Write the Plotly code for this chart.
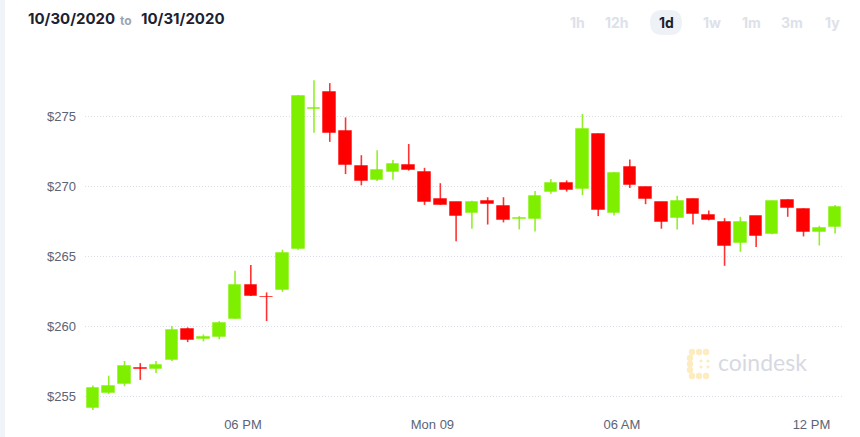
import plotly.graph_objects as go
import pandas as pd

# ---- data (30-minute candles) ----
times = pd.date_range(start="2020-11-08 13:15", periods=48, freq="30min")
opens = [254.2, 255.3, 255.9, 257.05, 256.95, 257.6, 259.85, 259.1, 259.3, 260.55,
         263.0, 262.15, 262.65, 265.55, 275.55, 276.75, 274.0, 271.5, 270.5, 271.05,
         271.55, 271.05, 269.15, 268.9, 268.1, 268.95, 268.65, 267.7, 267.7, 269.65,
         270.3, 269.85, 273.75, 268.15, 271.4, 269.95, 268.9, 267.75, 269.1, 268.0,
         267.45, 265.95, 267.9, 266.6, 269.05, 268.4, 266.8, 267.1]
highs = [255.8, 256.5, 257.55, 257.4, 257.55, 260.05, 259.95, 259.45, 260.4, 264.0,
         264.4, 262.45, 265.5, 276.55, 277.6, 277.4, 274.95, 272.25, 272.6, 271.9,
         273.05, 271.35, 270.25, 268.9, 269.0, 269.25, 269.25, 267.9, 269.7, 270.55,
         270.45, 275.2, 273.8, 271.05, 271.95, 270.0, 268.9, 269.35, 269.15, 268.3,
         267.75, 267.85, 267.9, 269.0, 269.1, 268.45, 267.2, 268.7]
lows = [254.05, 255.2, 255.75, 256.2, 256.7, 257.55, 258.9, 258.95, 259.1, 260.55,
        262.2, 260.4, 262.5, 265.5, 273.85, 273.2, 270.9, 270.1, 270.4, 270.5,
        271.15, 268.7, 268.7, 266.1, 267.0, 267.3, 267.45, 266.95, 266.8, 269.5,
        269.65, 269.4, 267.9, 267.95, 269.9, 268.75, 267.0, 266.95, 267.3, 267.6,
        264.35, 265.35, 265.7, 266.6, 267.85, 266.45, 265.8, 266.65]
closes = [255.6, 255.8, 257.2, 257.0, 257.3, 259.75, 259.05, 259.25, 260.25, 263.0,
          262.2, 262.1, 265.25, 276.45, 275.65, 273.85, 271.55, 270.4, 271.2, 271.6,
          271.2, 268.9, 268.7, 267.9, 268.9, 268.75, 267.6, 267.75, 269.35, 270.25,
          269.8, 274.1, 268.35, 271.0, 270.1, 269.1, 267.5, 269.0, 268.05, 267.65,
          265.8, 267.45, 266.5, 269.0, 268.45, 266.8, 267.05, 268.55]

y_tickvals = [255, 260, 265, 270, 275]
y_ticktext = ["$255", "$260", "$265", "$270", "$275"]
x_tickvals = ["2020-11-08 18:00", "2020-11-09 00:00", "2020-11-09 06:00", "2020-11-09 12:00"]
x_ticktext = ["06 PM", "Mon 09", "06 AM", "12 PM"]
timeframes = ["1h", "12h", "1d", "1w", "1m", "3m", "1y"]
date_from, date_to = "10/30/2020", "10/31/2020"

GREEN = "#7FEF00"
RED = "#FF0000"
GREEN_RIM = "rgba(127,239,0,0.45)"
RED_RIM = "rgba(255,0,0,0.45)"

# ---- layout geometry (pixels) ----
W, H = 860, 437
L, R, T, B = 85, 843, 50, 412
PW, PH = R - L, B - T
def px(x):
    return (x - L) / PW
def py(y):
    return (B - y) / PH

fig = go.Figure()

# wicks
for up, col in [(True, "rgba(127,239,0,0.85)"), (False, "rgba(255,0,0,0.8)")]:
    wx, wy = [], []
    for t, o, h, l, c in zip(times, opens, highs, lows, closes):
        if (c >= o) == up:
            wx += [t, t, None]
            wy += [l, h, None]
    fig.add_trace(go.Scatter(x=wx, y=wy, mode="lines", line=dict(color=col, width=1.6),
                             hoverinfo="skip", showlegend=False))

# bodies
for up, col, rim in [(True, GREEN, GREEN_RIM), (False, RED, RED_RIM)]:
    bx, bb, bh = [], [], []
    for t, o, c in zip(times, opens, closes):
        if (c >= o) == up:
            bx.append(t)
            bb.append(min(o, c))
            bh.append(max(abs(c - o), 0.04))
    fig.add_trace(go.Bar(x=bx, base=bb, y=bh, width=30 * 60 * 1000 * 0.8,
                         marker=dict(color=col, line=dict(color=rim, width=1)),
                         showlegend=False, hoverinfo="skip"))

fig.update_layout(
    width=W, height=H,
    margin=dict(l=L, r=W - R, t=T, b=H - B, pad=0, autoexpand=False),
    paper_bgcolor="white", plot_bgcolor="white",
    barmode="overlay", bargap=0,
    showlegend=False,
    font=dict(family="Liberation Sans, Arial, sans-serif", size=13, color="#5b6476"),
)
fig.update_xaxes(
    type="date", automargin=False,
    range=["2020-11-08 13:00", "2020-11-09 13:00"],
    tickvals=x_tickvals, ticktext=x_ticktext,
    showgrid=False, zeroline=False, showline=False, ticks="",
    tickfont=dict(size=13, color="#5b6476"),
    ticklabelstandoff=3,
)
y_top = 275 + (116.7 - T) / 14
y_bot = 275 - (B - 116.7) / 14
fig.update_yaxes(
    range=[y_bot, y_top], automargin=False,
    tickvals=y_tickvals, ticktext=y_ticktext,
    showgrid=True, gridcolor="#dcdfe8", griddash="1px,2px", gridwidth=1,
    zeroline=False, showline=False, ticks="",
    tickfont=dict(size=13, color="#5b6476"),
    ticklabelstandoff=8,
)

shapes = []
# left light strip
shapes.append(dict(type="rect", xref="paper", yref="paper", x0=px(0), x1=px(5), y0=py(H), y1=py(0),
                   fillcolor="#f0f3f8", line=dict(width=0), layer="below"))
# 1d pill
shapes.append(dict(type="path", xref="paper", yref="paper",
                   path="M {a},{b} L {c},{b} Q {e},{b} {e},{f} Q {e},{g} {c},{g} L {a},{g} Q {h},{g} {h},{f} Q {h},{b} {a},{b} Z".format(
                       a=px(662), c=px(670), e=px(682), f=py(22.5), b=py(10), g=py(35), h=px(650)),
                   fillcolor="#eef2f7", line=dict(width=0), layer="below"))
# coindesk logo dots
logo_pts = [(692, 352), (699, 352), (706, 352), (690, 358), (690, 364), (690, 370),
            (692, 376), (699, 376), (706, 376), (701, 361), (701, 367), (708, 361), (708, 367)]
for i, (cx, cy) in enumerate(logo_pts):
    r = 3.2 if i < 9 else 1.6
    shapes.append(dict(type="circle", xref="paper", yref="paper",
                       x0=px(cx - r), x1=px(cx + r), y0=py(cy + r), y1=py(cy - r),
                       fillcolor="#fcecc0", line=dict(width=0), layer="below"))
fig.update_layout(shapes=shapes)

ann = []
def text(x, y, s, size, color, bold=False, family="Inter, Liberation Sans, sans-serif", xanchor="left"):
    ann.append(dict(xref="paper", yref="paper", x=px(x), y=py(y), text=("<b>%s</b>" % s) if bold else s,
                    showarrow=False, xanchor=xanchor, yanchor="middle",
                    font=dict(size=size, color=color, family=family)))

text(26, 19, date_from, 15, "#1a2233", bold=True)
text(118, 20, "to", 12, "#9ca4b4", bold=True)
text(139, 19, date_to, 15, "#1a2233", bold=True)
tf_x = [577, 617, 666, 712, 751, 792, 832]
for s, x in zip(timeframes, tf_x):
    text(x, 23, s, 14, "#1b1f2a" if s == "1d" else "#dde1e9", bold=True, xanchor="center")
text(716, 362, "coindesk", 23, "#d6d9e2", family="Lato, Open Sans, sans-serif")
fig.update_layout(annotations=ann)

fig.write_html("out.html")
